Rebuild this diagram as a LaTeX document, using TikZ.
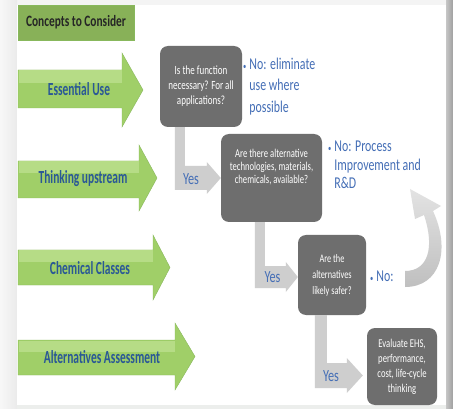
\documentclass[tikz,border=0pt]{standalone}
\usepackage{fontspec}
\setmainfont{Carlito}[FakeStretch=0.72]
\newfontfamily\lblfont{Carlito}[FakeStretch=0.62]
\usetikzlibrary{calc}

\definecolor{leaf}{RGB}{182,220,134}
\definecolor{leafmd}{RGB}{160,207,104}
\definecolor{leafdk}{RGB}{138,196,80}
\definecolor{leafln}{RGB}{136,184,92}
\definecolor{slate}{RGB}{110,110,110}
\definecolor{fog}{RGB}{206,206,206}
\definecolor{ink}{RGB}{42,88,150}
\definecolor{sky}{RGB}{68,110,182}

\tikzset{
  headbox/.style = {rectangle, fill=leafmd!85!black!95!leafdk,
                    draw=leafln, minimum width=116pt, minimum height=35pt,
                    font=\fontsize{15.8}{18}\selectfont\bfseries, text=black!85},
  garrow/.style  = {fill=leafmd, draw=leafln},
  gshine/.style  = {fill=leaf},
  glabel/.style  = {font=\lblfont\fontsize{18.5}{20}\selectfont\bfseries, text=ink,
                    inner sep=0pt},
  qbox/.style    = {rectangle, rounded corners=8pt, fill=slate, text=white,
                    align=center, inner sep=2pt,
                    font=\fontsize{12.5}{15}\selectfont},
  yesbar/.style  = {fill=fog},
  yes/.style     = {text=sky, font=\fontsize{17}{20}\selectfont, inner sep=0pt},
  note/.style    = {text=sky, anchor=west, inner sep=0pt,
                    font=\fontsize{16.5}{21.5}\selectfont},
}

\begin{document}
\begin{tikzpicture}[x=1pt, y=-1pt]
\useasboundingbox (0,0) rectangle (453,409);

% ── frame ───────────────────────────────────────────────────
\fill[gray!9] (0,0) rectangle (453,409);
\shade[left color=gray!6, right color=gray!16] (0,0) rectangle (17,409);
\fill[white] (17,5) rectangle (446,405);
\shade[left color=gray!45, right color=gray!75] (446,0) rectangle (453,409);
\fill[green!6!gray!14] (17,405) rectangle (446,409);

% ── left column: concepts ───────────────────────────────────
\node[headbox] (hd) at (76,22.5) {Concepts to Consider};

%  body top / body bottom / head x / head top / head bottom / tip x
\foreach \bt/\bb/\hx/\ht/\hb/\tx in {70/108/122/53/127/143,
                                     161/198/139/145/211/157,
                                     250/285/153/235/300/170,
                                     340/375/175/323/390/195}
{
  \path[garrow] (18,\bt) -- (\hx,\bt) -- (\hx,\ht) -- (\tx,{(\ht+\hb)/2})
                -- (\hx,\hb) -- (\hx,\bb) -- (18,\bb) -- cycle;
  \path[gshine] (18.5,\bt+0.5) rectangle (\hx,{\bt+(\bb-\bt)/3});
}

\node[glabel] (c1) at (79,89)  {Essential Use};
\node[glabel] (c2) at (83,179) {Thinking upstream};
\node[glabel] (c3) at (90,268) {Chemical Classes};
\node[glabel] (c4) at (102,357) {Alternatives Assessment};

% ── decision boxes ──────────────────────────────────────────
\node[qbox, minimum width=82pt, minimum height=81pt] (q1) at (201,86.5)
  {Is the function\\necessary? For all\\applications?};

\node[qbox, minimum width=101pt, minimum height=88pt] (q2) at (271.5,178) {};
\node[text=white, align=center, font=\fontsize{12}{12.8}\selectfont]
  (q2t) at ([yshift=11pt]q2.center)
  {Are there alternative\\technologies, materials,\\chemicals, available?};

\node[qbox, minimum width=68pt, minimum height=80pt,
      font=\fontsize{11.5}{16}\selectfont] (q3) at (332,275)
  {Are the\\alternatives\\likely safer?};

\node[qbox, minimum width=70pt, minimum height=77pt,
      font=\fontsize{12}{15}\selectfont] (q4) at (402,366.5)
  {Evaluate EHS,\\performance,\\cost, life-cycle\\thinking};

% ── "No" notes ──────────────────────────────────────────────
\node[note] (n1) at (243,86.5)
  {\begin{tabular}{@{}l@{\hspace{3pt}}l@{}}
   \small\textbullet & No: eliminate\\ & use where\\ & possible\end{tabular}};
\node[note, font=\fontsize{16.5}{18.5}\selectfont] (n2) at (328,166.5)
  {\begin{tabular}{@{}l@{\hspace{3pt}}l@{}}
   \small\textbullet & No: Process\\ & Improvement and\\ & R\&D\end{tabular}};
\node[note] (n3) at (370,277)
  {\begin{tabular}{@{}l@{\hspace{3pt}}l@{}}\small\textbullet & No:\end{tabular}};

% ── "Yes" bent arrows ───────────────────────────────────────
\fill[yesbar] let \p1 = (q1.south west), \p2 = (q2.west) in
  (\x1+15pt,\y1) -- (\x1+25pt,\y1) -- (\x1+25pt,\y2+12pt) -- (\x2-14pt,\y2+12pt)
  -- (\x2-14pt,\y2+16pt) -- (\p2) -- (\x2-14pt,\y2-16pt) -- (\x2-14pt,\y2-12pt)
  -- (\x1+15pt,\y2-12pt) -- cycle;
\node[yes] (y1) at (191,179) {Yes};

\fill[yesbar] let \p1 = (q2.south west), \p2 = ([yshift=-2pt]q3.west) in
  (\x1+34pt,\y1) -- (\x1+44pt,\y1) -- (\x1+44pt,\y2+11pt) -- (\x2-12pt,\y2+11pt)
  -- (\x2-12pt,\y2+15pt) -- (\p2) -- (\x2-12pt,\y2-15pt) -- (\x2-12pt,\y2-11pt)
  -- (\x1+34pt,\y2-11pt) -- cycle;
\node[yes] (y2) at (272.5,277) {Yes};

\fill[yesbar] let \p1 = (q3.south west), \p2 = ([shift={(-4pt,-9pt)}]q4.west) in
  (\x1+17pt,\y1) -- (\x1+29pt,\y1) -- (\x1+29pt,\y2+12.5pt) -- (\x2-16pt,\y2+12.5pt)
  -- (\x2-16pt,\y2+17.5pt) -- (\p2) -- (\x2-16pt,\y2-17.5pt) -- (\x2-16pt,\y2-12.5pt)
  -- (\x1+17pt,\y2-12.5pt) -- cycle;
\node[yes] (y3) at (331,376) {Yes};

% ── loop back: not safer -> process improvement ─────────────
\shade[top color=gray!22, bottom color=gray!50]
  (405,287) .. controls (440,287) and (451,250) .. (433,211)
  -- (441,206) -- (410,189) -- (415,219) -- (424,215)
  .. controls (435,248) and (428,271) .. (405,271) -- cycle;

\end{tikzpicture}
\end{document}
